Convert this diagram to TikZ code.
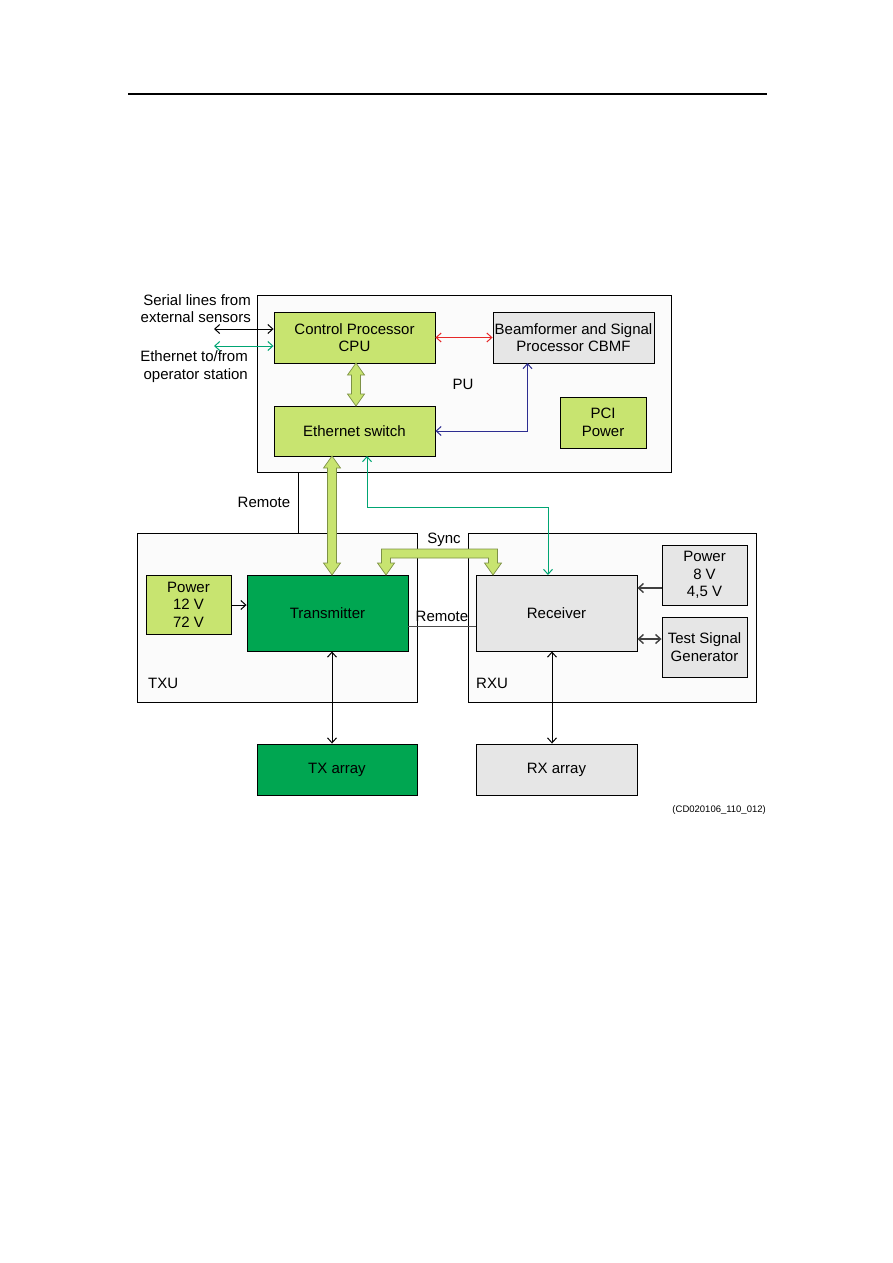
\documentclass[tikz,border=0pt]{standalone}
\usepackage{fontspec}
\setmainfont{Liberation Sans}
\usetikzlibrary{arrows.meta,calc}
\definecolor{lgreen}{RGB}{200,228,112}
\definecolor{dgreen}{RGB}{0,166,81}
\definecolor{lgray}{RGB}{230,230,230}
\definecolor{cwhite}{RGB}{251,251,251}
\definecolor{tline}{RGB}{0,165,115}
\definecolor{navy}{RGB}{45,45,145}
\definecolor{rline}{RGB}{230,40,40}
\definecolor{fatedge}{RGB}{125,145,70}
\tikzset{
  box/.style={draw=black, line width=0.9pt, inner sep=0pt, align=center, font=\fontsize{15}{17.5}\selectfont},
  cont/.style={draw=black, line width=0.9pt, fill=cwhite, inner sep=0pt},
  lbl/.style={inner sep=0pt, align=center, font=\fontsize{15}{17.5}\selectfont},
  conn/.style={line width=1pt, arrows={Straight Barb[length=5pt,width=9pt]-Straight Barb[length=5pt,width=9pt]}},
  oneway/.style={line width=1pt, -{Straight Barb[length=5pt,width=9pt]}},
  fat/.style={fill=lgreen, draw=fatedge, line width=0.7pt, line join=miter}
}
\begin{document}
\begin{tikzpicture}[x=1pt,y=-1pt]
\useasboundingbox (0,0) rectangle (893,1263);
\fill[white] (0,0) rectangle (893,1263);
% header rule
\coordinate (hl) at (128,94);
\coordinate (hr) at (767,94);
\draw[line width=1.4pt] (hl) -- (hr);

% containers
\node[cont, minimum width=414, minimum height=177] (pu) at (464,383.5) {};
\node[cont, minimum width=280, minimum height=169] (txu) at (277,617.5) {};
\node[cont, minimum width=288, minimum height=169] (rxu) at (612,617.5) {};

% PU contents
\node[box, fill=lgreen, minimum width=161, minimum height=51] (cpu) at (354.5,337.5) {Control Processor\\CPU};
\node[box, fill=lgray, minimum width=161, minimum height=51] (bf) at (573.5,337.5) {Beamformer and Signal\\Processor CBMF};
\node[box, fill=lgreen, minimum width=161, minimum height=50] (eth) at (354.5,431) {Ethernet switch};
\node[box, fill=lgreen, minimum width=86, minimum height=51] (pci) at (603,422.5) {PCI\\Power};
\node[lbl] (pul) at (463,384) {PU};

% external labels
\node[lbl, anchor=east, align=right] (ser) at (251,308.5) {Serial lines from\\external sensors};
\node[lbl, anchor=east, align=right] (etl) at (248,366.5) {Ethernet to/from\\operator station};
\coordinate (s1) at (214,329);
\coordinate (s2) at (214,346);
\draw[conn] (s1) -- (s1 -| cpu.west);
\draw[conn, tline] (s2) -- (s2 -| cpu.west);
\draw[conn, rline] (cpu.east) -- (bf.west);
\coordinate (bfb) at (527.5,363);
\draw[conn, navy] (eth.east) -| (bfb);

% TXU contents
\node[box, fill=lgreen, minimum width=85, minimum height=59] (pw1) at (188.5,604.5) {Power\\12 V\\72 V};
\node[box, fill=dgreen, minimum width=161, minimum height=76] (tx) at (327.5,613) {Transmitter};
\node[lbl, anchor=west] (txul) at (148,683) {TXU};

% RXU contents
\node[box, fill=lgray, minimum width=161, minimum height=76] (rx) at (556.5,613) {Receiver};
\node[box, fill=lgray, minimum width=85, minimum height=60] (pw2) at (704.5,575) {Power\\8 V\\4,5 V};
\node[box, fill=lgray, minimum width=85, minimum height=60] (tsg) at (704.5,647) {Test Signal\\Generator};
\node[lbl, anchor=west] (rxul) at (476,683) {RXU};

% arrays
\node[box, fill=dgreen, minimum width=160, minimum height=51] (txa) at (337,769.5) {TX array};
\node[box, fill=lgray, minimum width=161, minimum height=51] (rxa) at (556.5,769.5) {RX array};

% connectors inside units
\draw[oneway] (pw1.east |- 0,605) -- (tx.west |- 0,605);
\draw[oneway, line width=1.4pt, black!75] (pw2.west |- 0,588) -- (rx.east |- 0,588);
\draw[conn, line width=1.4pt, black!75] (rx.east |- 0,639) -- (tsg.west |- 0,639);

% Remote lines
\coordinate (r1) at (298,472);
\draw[line width=0.9pt] (r1) -- (r1 |- txu.north);
\node[lbl] (rem1) at (264,502) {Remote};
\draw[line width=0.9pt, black!70] (tx.east |- 0,626) -- (rx.west |- 0,626);
\node[lbl] (rem2) at (442,616) {Remote};

% array arrows
\draw[conn] (tx.south -| 332,0) -- (txa.north -| 332,0);
\draw[conn] (rx.south -| 552,0) -- (rxa.north -| 552,0);

% green ethernet link to receiver
\coordinate (g1) at (367,456);
\coordinate (g2) at (548,575);
\draw[conn, tline] (g1) |- (548,507) -- (g2);

% fat double arrow CPU <-> Ethernet switch
\draw[fat] (356,363) -- (364.5,375) -- (360.5,375) -- (360.5,394) -- (364.5,394) -- (356,406)
  -- (347.5,394) -- (351.5,394) -- (351.5,375) -- (347.5,375) -- cycle;
% fat double arrow Ethernet switch <-> Transmitter
\draw[fat] (332,456) -- (340.5,468) -- (336.5,468) -- (336.5,563) -- (340.5,563) -- (332,575)
  -- (323.5,563) -- (327.5,563) -- (327.5,468) -- (323.5,468) -- cycle;
% Sync fat arrow
\draw[fat] (386,575) -- (377.5,563) -- (381.5,563) -- (381.5,549) -- (497.5,549) -- (497.5,563)
  -- (501.5,563) -- (493,575) -- (484.5,563) -- (488.5,563) -- (488.5,558) -- (390.5,558)
  -- (390.5,563) -- (394.5,563) -- cycle;
\node[lbl] (sync) at (444,540) {Sync};

% figure reference
\node[lbl, anchor=east, font=\fontsize{9.5}{11}\selectfont] (ref) at (766,810) {(CD020106\_110\_012)};
\end{tikzpicture}
\end{document}
